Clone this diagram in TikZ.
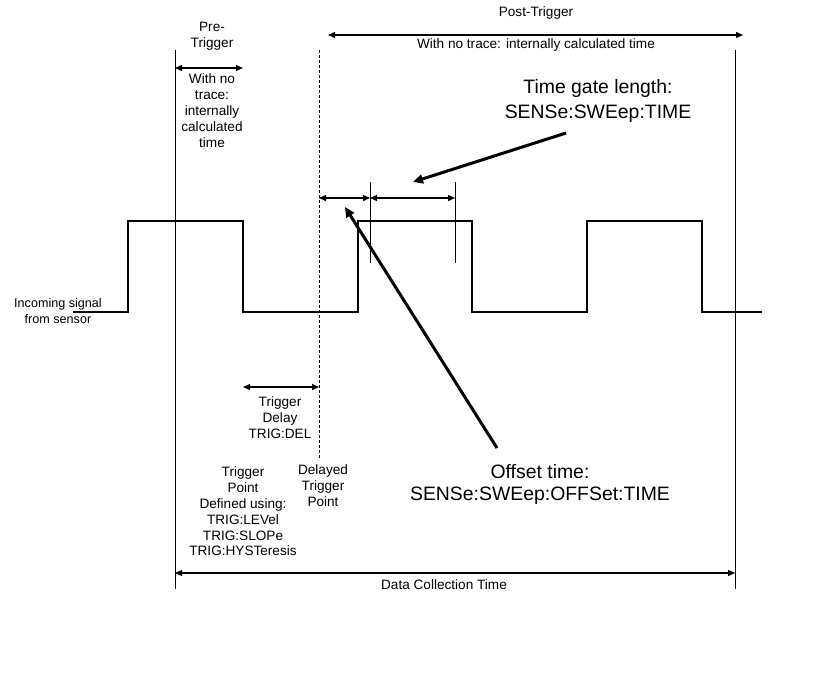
\documentclass[tikz,border=0pt]{standalone}
\usepackage{fontspec}
\setmainfont{Liberation Sans}
\usetikzlibrary{arrows.meta}
\tikzset{
  lbl/.style={font=\fontsize{13.6}{16}\selectfont, align=center, inner sep=0pt},
  biglbl/.style={font=\fontsize{19.4}{25}\selectfont, align=center, inner sep=0pt},
  dim/.style={line width=1.3pt, {Triangle[length=7pt,width=6pt]}-{Triangle[length=7pt,width=6pt]}},
  pointer/.style={line width=3pt, -{Triangle[length=10pt,width=9pt]}},
  marker/.style={line width=0.7pt},
}
\begin{document}
\begin{tikzpicture}[x=1pt,y=-1pt]
\useasboundingbox (0,0) rectangle (828,686);
% markers
\coordinate (preT) at (175,50);  \coordinate (preB) at (175,589);
\coordinate (delT) at (319,50);  \coordinate (delB) at (319,460);
\coordinate (endT) at (735,50);  \coordinate (endB) at (735,589);
\draw[marker] (preT) -- (preB);
\draw[marker, dashed, dash pattern=on 3pt off 2pt] (delT) -- (delB);
\draw[marker] (endT) -- (endB);
% incoming signal
\draw[line width=1.1pt] (73,312) -- (128,312) -- (128,221) -- (243,221) -- (243,312)
  -- (358,312) -- (358,221) -- (472,221) -- (472,312) -- (587,312) -- (587,221)
  -- (702,221) -- (702,312) -- (762,312);
\node[lbl, font=\fontsize{12.6}{16}\selectfont] (incoming) at (58,311) {Incoming signal\\from sensor};
% pre-trigger
\node[lbl] (pretxt) at (212,36.5) {Pre-\\Trigger};
\coordinate (preA) at (175,68); \coordinate (preZ) at (243,68);
\draw[dim] (preA) -- (preZ);
\node[lbl] (prenote) at (212,110.5) {With no\\trace:\\internally\\calculated\\time};
% post-trigger
\node[lbl] (posttxt) at (536,13) {Post-Trigger};
\coordinate (postA) at (328,35); \coordinate (postZ) at (743,35);
\draw[dim] (postA) -- (postZ);
\node[lbl] (postnote) at (536,45) {With no trace: internally calculated time};
% time gate
\coordinate (gA) at (319,198); \coordinate (gB) at (370,198); \coordinate (gC) at (455,198);
\draw[marker] (370,182) -- (370,263);
\draw[marker] (455,182) -- (455,263);
\draw[dim] (gA) -- (gB);
\draw[dim] (gB) -- (gC);
\node[biglbl] (gatetxt) at (598,100.5) {Time gate length:\\SENSe:SWEep:TIME};
\coordinate (gatefrom) at (566,133); \coordinate (gateto) at (413,182);
\draw[pointer] (gatefrom) -- (gateto);
% offset
\node[biglbl, font=\fontsize{19.4}{22}\selectfont] (offtxt) at (540,484) {Offset time:\\SENSe:SWEep:OFFSet:TIME};
\coordinate (offfrom) at (497,448); \coordinate (offto) at (345,207);
\draw[pointer] (offfrom) -- (offto);
% trigger delay
\coordinate (tdA) at (243,387); \coordinate (tdZ) at (319,387);
\draw[dim] (tdA) -- (tdZ);
\node[lbl] (tdtxt) at (280,418) {Trigger\\Delay\\TRIG:DEL};
\node[lbl] (deltxt) at (323,486) {Delayed\\Trigger\\Point};
\node[lbl, font=\fontsize{13.6}{15.8}\selectfont] (trigtxt) at (243,511.5)
  {Trigger\\Point\\Defined using:\\TRIG:LEVel\\TRIG:SLOPe\\TRIG:HYSTeresis};
% data collection
\coordinate (dcA) at (175,573); \coordinate (dcZ) at (735,573);
\draw[dim] (dcA) -- (dcZ);
\node[lbl] (dctxt) at (444,585) {Data Collection Time};
\end{tikzpicture}
\end{document}
